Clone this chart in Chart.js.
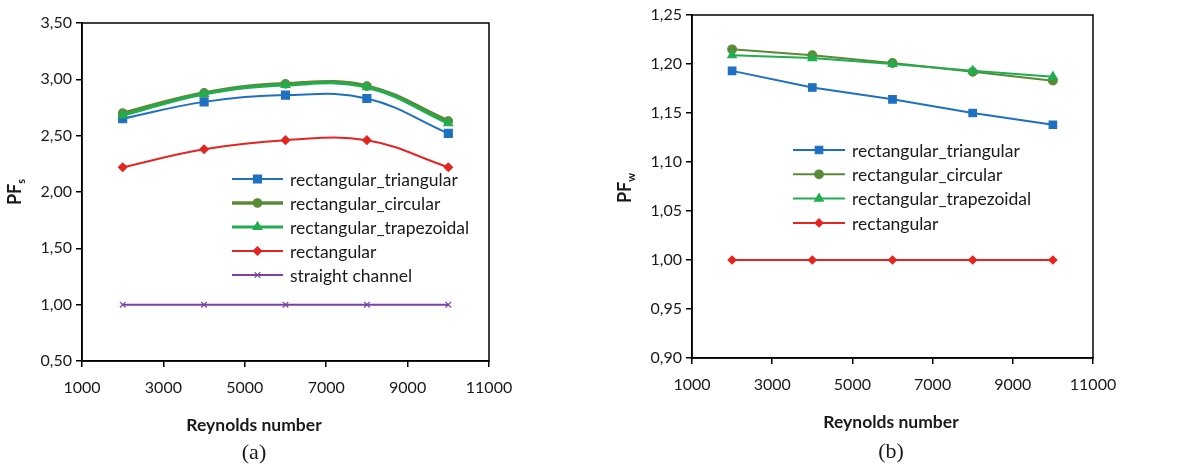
<!DOCTYPE html>
<html>
<head>
<meta charset="utf-8">
<script src="https://cdn.jsdelivr.net/npm/chart.js@4.4.1/dist/chart.umd.min.js"></script>
<style>
  body { margin: 0; background: #fff; }
  #wrap { position: relative; width: 1198px; height: 466px; }
  #chartA { position: absolute; left: 0; top: 0; }
  #chartB { position: absolute; left: 600px; top: 0; }
</style>
</head>
<body>
<div id="wrap">
  <canvas id="chartA" width="600" height="466"></canvas>
  <canvas id="chartB" width="598" height="466"></canvas>
</div>
<script>
// ---------------- data ----------------
const reynolds = [2000, 4000, 6000, 8000, 10000];

const namesA = ['rectangular_triangular', 'rectangular_circular', 'rectangular_trapezoidal', 'rectangular', 'straight channel'];
const pfsTriangular   = [2.65, 2.80, 2.86, 2.83, 2.52];
const pfsCircular     = [2.70, 2.88, 2.96, 2.94, 2.63];
const pfsTrapezoidal  = [2.68, 2.87, 2.95, 2.93, 2.61];
const pfsRectangular  = [2.22, 2.38, 2.46, 2.46, 2.22];
const pfsStraight     = [1.00, 1.00, 1.00, 1.00, 1.00];

const namesB = ['rectangular_triangular', 'rectangular_circular', 'rectangular_trapezoidal', 'rectangular'];
const pfwTriangular   = [1.193, 1.176, 1.164, 1.150, 1.138];
const pfwCircular     = [1.215, 1.209, 1.201, 1.192, 1.183];
const pfwTrapezoidal  = [1.209, 1.206, 1.200, 1.193, 1.187];
const pfwRectangular  = [1.000, 1.000, 1.000, 1.000, 1.000];

const xTicks = { min: 1000, max: 11000, step: 2000 };
const yTicksA = { min: 0.5, max: 3.5, step: 0.5 };
const yTicksB = { min: 0.9, max: 1.25, step: 0.05 };

// ---------------- styles ----------------
const BLUE = '#1f70c1', OLIVE = '#5a8a34', GREEN = '#22ac50', RED = '#e52421', PURPLE = '#7b41a4';
const FONT = 'Lato, "Open Sans", sans-serif';

function toPoints(values) {
  return values.map((v, i) => ({ x: reynolds[i], y: v }));
}

function makeSet(label, values, color, style, radius, width, order, tension) {
  return {
    label, data: toPoints(values),
    borderColor: color, backgroundColor: color,
    pointBackgroundColor: color, pointBorderColor: color,
    pointStyle: style, pointRadius: radius, pointBorderWidth: 1.2,
    borderWidth: width, tension, order
  };
}

const comma = v => v.toFixed(2).replace('.', ',');

// border box, inside legend, axis titles, panel letter
const panelText = {
  id: 'panelText',
  afterDraw(chart, args, opts) {
    const { ctx, chartArea: a } = chart;
    ctx.save();
    ctx.strokeStyle = '#000';
    ctx.lineWidth = 1.5;
    ctx.strokeRect(a.left, a.top, a.right - a.left, a.bottom - a.top);

    // legend
    const lg = opts.legend;
    ctx.font = '17.5px ' + FONT;
    ctx.textBaseline = 'middle';
    ctx.textAlign = 'left';
    chart.data.datasets.forEach((ds, i) => {
      const y = lg.y + i * lg.gap;
      ctx.strokeStyle = ds.borderColor;
      ctx.lineWidth = ds.borderWidth;
      ctx.beginPath();
      ctx.moveTo(lg.x0, y);
      ctx.lineTo(lg.x1, y);
      ctx.stroke();
      ctx.fillStyle = ds.pointBackgroundColor;
      ctx.strokeStyle = ds.pointBorderColor;
      ctx.lineWidth = ds.pointBorderWidth;
      Chart.helpers.drawPoint(ctx, { pointStyle: ds.pointStyle, radius: ds.pointRadius, borderWidth: ds.pointBorderWidth, rotation: 0 }, (lg.x0 + lg.x1) / 2, y);
      ctx.fillStyle = '#1a1a1a';
      ctx.fillText(ds.label, lg.tx, y + 1);
    });

    // x title
    const mid = opts.centerX;
    ctx.fillStyle = '#1a1a1a';
    ctx.textAlign = 'center';
    ctx.textBaseline = 'alphabetic';
    ctx.font = 'bold 17.5px ' + FONT;
    ctx.fillText('Reynolds number', mid, opts.xTitleY);

    // y title with subscript
    ctx.save();
    ctx.translate(opts.yTitleX, opts.yTitleY);
    ctx.rotate(-Math.PI / 2);
    ctx.font = 'bold 18px ' + FONT;
    const w1 = ctx.measureText('PF').width;
    ctx.font = 'bold 11px ' + FONT;
    const w2 = ctx.measureText(opts.sub).width;
    ctx.textAlign = 'left';
    ctx.font = 'bold 18px ' + FONT;
    ctx.fillText('PF', -(w1 + w2) / 2, 6);
    ctx.font = 'bold 11px ' + FONT;
    ctx.fillText(opts.sub, -(w1 + w2) / 2 + w1, 10);
    ctx.restore();

    // panel letter
    ctx.font = '22px "Liberation Serif", "DejaVu Serif", serif';
    ctx.textAlign = 'center';
    ctx.fillText(opts.letter, mid, opts.letterY);
    ctx.restore();
  }
};

function axisX(height) {
  return {
    type: 'linear', min: xTicks.min, max: xTicks.max,
    ticks: { stepSize: xTicks.step, color: '#1a1a1a', font: { family: FONT, size: 16 }, padding: 11, callback: v => String(v) },
    grid: { drawOnChartArea: false, tickLength: 6, color: '#000', lineWidth: 1.5 },
    border: { color: '#000', width: 1.5 },
    afterFit: s => { s.height = height; }
  };
}

function axisY(t, width) {
  return {
    type: 'linear', min: t.min, max: t.max,
    ticks: { stepSize: t.step, color: '#1a1a1a', font: { family: FONT, size: 16 }, padding: 4, callback: v => comma(v) },
    grid: { drawOnChartArea: false, tickLength: 6, color: '#000', lineWidth: 1.5 },
    border: { color: '#000', width: 1.5 },
    afterFit: s => { s.width = width; }
  };
}

// ---------------- chart (a) ----------------
new Chart(document.getElementById('chartA'), {
  type: 'line',
  data: {
    datasets: [
      makeSet(namesA[0], pfsTriangular, BLUE, 'rect', 5.6, 2, 5, 0.4),
      makeSet(namesA[1], pfsCircular, OLIVE, 'circle', 4.2, 3.5, 4, 0.4),
      makeSet(namesA[2], pfsTrapezoidal, GREEN, 'triangle', 5, 3, 3, 0.4),
      makeSet(namesA[3], pfsRectangular, RED, 'rectRot', 4.2, 2, 2, 0.4),
      makeSet(namesA[4], pfsStraight, PURPLE, 'crossRot', 4, 2, 1, 0)
    ]
  },
  options: {
    responsive: false, animation: false,
    layout: { padding: { top: 23, right: 111, left: 0, bottom: 0 } },
    scales: { x: axisX(105), y: axisY(yTicksA, 82) },
    plugins: {
      legend: { display: false }, tooltip: { enabled: false },
      panelText: {
        legend: { x0: 232, x1: 283, tx: 290, y: 179, gap: 24 },
        centerX: 254, xTitleY: 431, letterY: 459,
        yTitleX: 15, yTitleY: 192, sub: 's', letter: '(a)'
      }
    }
  },
  plugins: [panelText]
});

// ---------------- chart (b) ----------------
new Chart(document.getElementById('chartB'), {
  type: 'line',
  data: {
    datasets: [
      makeSet(namesB[0], pfwTriangular, BLUE, 'rect', 5.3, 2, 4, 0),
      makeSet(namesB[1], pfwCircular, OLIVE, 'circle', 4.3, 2, 3, 0),
      makeSet(namesB[2], pfwTrapezoidal, GREEN, 'triangle', 5, 2, 2, 0),
      makeSet(namesB[3], pfwRectangular, RED, 'rectRot', 4, 2, 1, 0)
    ]
  },
  options: {
    responsive: false, animation: false,
    layout: { padding: { top: 15, right: 105, left: 0, bottom: 0 } },
    scales: { x: axisX(108), y: axisY(yTicksB, 92) },
    plugins: {
      legend: { display: false }, tooltip: { enabled: false },
      panelText: {
        legend: { x0: 193, x1: 245, tx: 252, y: 150, gap: 24.3 },
        centerX: 291, xTitleY: 428, letterY: 458,
        yTitleX: 25, yTitleY: 188, sub: 'w', letter: '(b)'
      }
    }
  },
  plugins: [panelText]
});
</script>
</body>
</html>
